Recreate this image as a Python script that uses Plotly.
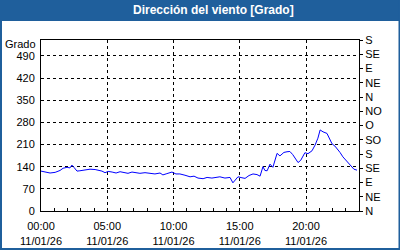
import plotly.graph_objects as go

# Data: hours since 00:00 on 11/01/26 and wind direction in degrees
hours = [0.0, 0.3, 0.68, 1.06, 1.43, 1.66, 1.96, 2.19, 2.34, 2.49, 2.72, 2.94, 3.32, 3.70, 4.08, 4.30,
         4.6, 4.83, 5.06, 5.36, 5.66, 5.96, 6.26, 6.57, 6.87, 7.17, 7.47, 7.85, 8.23, 8.6, 8.98, 9.2,
         9.5, 9.89, 10.19, 10.49, 10.87, 11.25, 11.55, 11.85, 12.23, 12.53, 12.9, 13.2, 13.5, 13.89,
         14.26, 14.49, 14.72, 14.87, 15.17, 15.4, 15.7, 16.0, 16.3, 16.53, 16.75, 16.9, 17.06, 17.28,
         17.5, 17.81, 18.04, 18.34, 18.57, 18.79, 19.0, 19.25, 19.4, 19.6, 19.92, 20.15, 20.45, 20.68,
         20.9, 21.06, 21.28, 21.58, 21.96, 22.19, 22.34, 22.57, 22.79, 23.09, 23.32, 23.62, 23.85]
degrees = [126, 124, 120, 122, 128, 135, 138, 136, 145, 138, 126, 127, 130, 132, 131, 129,
           126, 121, 125, 123, 120, 124, 122, 119, 123, 120, 119, 121, 119, 117, 120, 114,
           118, 123, 117, 117, 113, 108, 110, 104, 102, 106, 104, 107, 108, 104,
           106, 89, 100, 108, 105, 103, 112, 117, 115, 110, 140, 128, 127, 148,
           138, 182, 174, 185, 187, 188, 178, 163, 153, 160, 184, 181, 190, 208,
           230, 256, 250, 245, 212, 205, 198, 185, 171, 158, 145, 132, 129]

x_tick_hours = [0, 5, 10, 15, 20]
x_tick_labels = ["00:00<br>11/01/26", "05:00<br>11/01/26", "10:00<br>11/01/26",
                 "15:00<br>11/01/26", "20:00<br>11/01/26"]
y_left_ticks = [0, 70, 140, 210, 280, 350, 420, 490]
y_right_ticks = [0, 45, 90, 135, 180, 225, 270, 315, 360, 405, 450, 495, 540]
y_right_labels = ["N", "NE", "E", "SE", "S", "SO", "O", "NO", "N", "NE", "E", "SE", "S"]
title_text = "Dirección del viento [Grado]"
y_unit = "Grado"


def hstr(h):
    mins = int(round(h * 60))
    return "2026-01-11 %02d:%02d" % (mins // 60, mins % 60)


xs = [hstr(h) for h in hours]
tickx = [hstr(h) for h in x_tick_hours]

BLUE = "#1f5f9c"
FONT = "Liberation Sans"

fig = go.Figure()
fig.add_trace(go.Scatter(x=xs, y=degrees, mode="lines",
                         line=dict(color="#0000ff", width=1), hoverinfo="skip", showlegend=False))
fig.add_trace(go.Scatter(x=[xs[0]], y=[None], yaxis="y2", mode="lines",
                         hoverinfo="skip", showlegend=False))

fig.update_layout(
    width=400, height=250,
    margin=dict(l=41, r=41, t=40, b=39, pad=0),
    paper_bgcolor="white", plot_bgcolor="white",
    font=dict(family=FONT, size=11, color="black"),
    xaxis=dict(
        type="date", range=["2026-01-11 00:00", "2026-01-12 00:00"],
        tickmode="array", tickvals=tickx, ticktext=x_tick_labels,
        showgrid=True, gridcolor="black", griddash="3px,3px", gridwidth=1,
        showline=True, linecolor="black", linewidth=1, mirror=True,
        ticks="inside", ticklen=3, tickcolor="black",
        minor=dict(dtick=3600000, ticks="inside", ticklen=3, tickcolor="black", showgrid=False),
        zeroline=False, fixedrange=True, ticklabelstandoff=5, automargin=False,
    ),
    yaxis=dict(
        range=[0, 540], tickmode="array", tickvals=y_left_ticks,
        showgrid=True, gridcolor="black", griddash="3px,3px", gridwidth=1,
        showline=True, linecolor="black", linewidth=1,
        ticks="", zeroline=False, fixedrange=True, ticklabelstandoff=3, automargin=False,
    ),
    yaxis2=dict(
        range=[0, 540], overlaying="y", side="right", tickmode="array",
        tickvals=y_right_ticks, ticktext=y_right_labels,
        showgrid=False, showline=True, linecolor="black", linewidth=1,
        ticks="outside", ticklen=3, tickcolor="black", zeroline=False, fixedrange=True,
        automargin=False,
    ),
)

W, H = 400.0, 250.0
pw, ph = 318.0, 171.0


def px(xp):
    return (xp - 41.0) / pw


def py(yp):
    return (211.0 - yp) / ph


shapes = [
    dict(type="rect", xref="paper", yref="paper", x0=px(0), x1=px(W), y0=py(21), y1=py(0),
         fillcolor=BLUE, line=dict(width=0), layer="above"),
    dict(type="rect", xref="paper", yref="paper", x0=px(0), x1=px(2), y0=py(H), y1=py(0),
         fillcolor=BLUE, line=dict(width=0), layer="above"),
    dict(type="rect", xref="paper", yref="paper", x0=px(398.5), x1=px(W), y0=py(H), y1=py(0),
         fillcolor=BLUE, line=dict(width=0), layer="above"),
    dict(type="rect", xref="paper", yref="paper", x0=px(0), x1=px(W), y0=py(H), y1=py(248),
         fillcolor=BLUE, line=dict(width=0), layer="above"),
]
fig.update_layout(shapes=shapes)

fig.add_annotation(text="<b>" + title_text + "</b>", xref="paper", yref="paper",
                   x=px(213), y=py(10.5), xanchor="center", yanchor="middle", showarrow=False,
                   font=dict(family=FONT, size=12, color="white"))
fig.add_annotation(text=y_unit, xref="paper", yref="paper", x=px(38), y=py(44),
                   xanchor="right", yanchor="middle", showarrow=False,
                   font=dict(family=FONT, size=11, color="black"))

fig.write_html("out.html")
